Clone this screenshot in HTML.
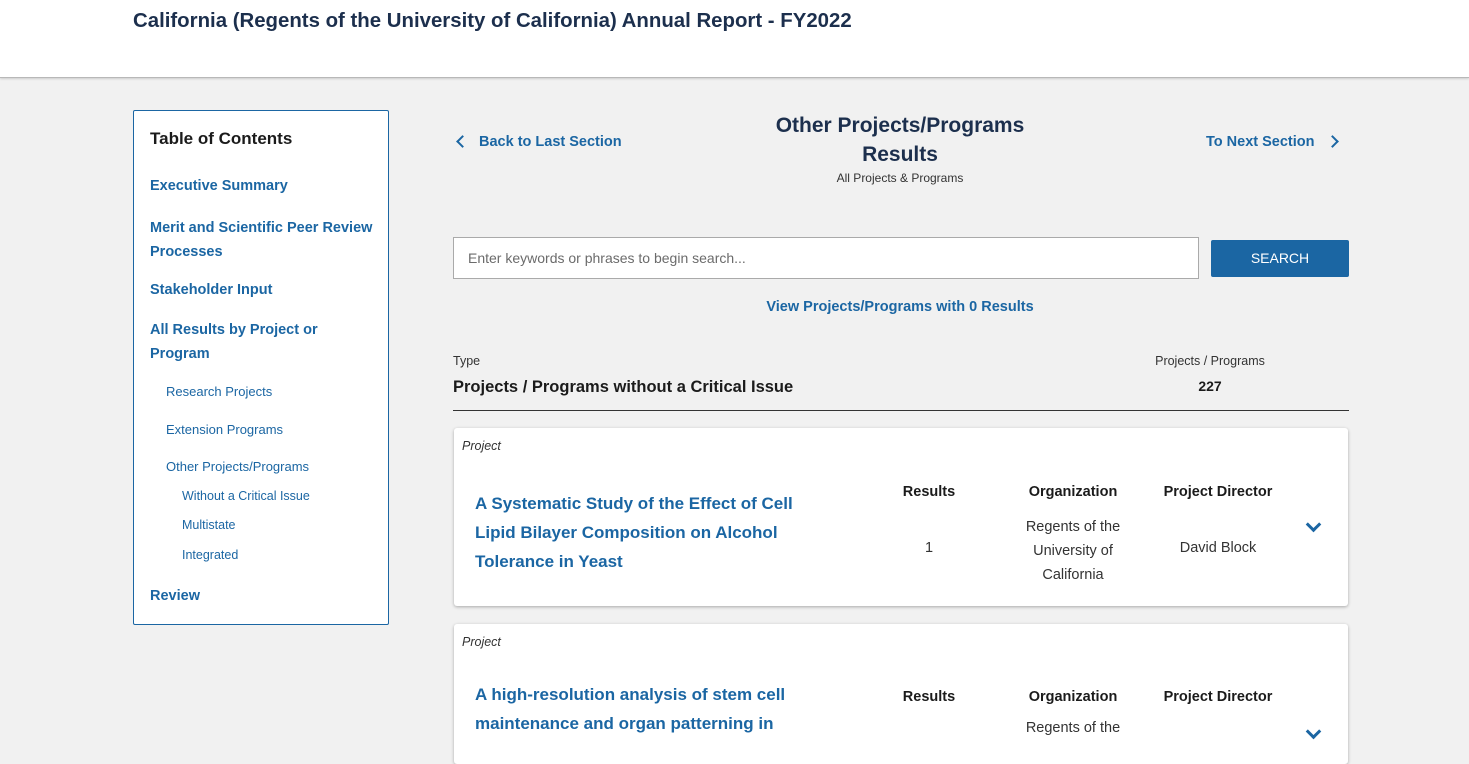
<!DOCTYPE html>
<html><head><meta charset="utf-8"><style>
*{box-sizing:border-box;margin:0;padding:0}
body{width:1469px;height:735px;overflow:hidden;background:#f1f1f1;font-family:"Liberation Sans",sans-serif;position:relative;color:#1b1b1b}
.a{position:absolute;white-space:nowrap}
.hdr{position:absolute;left:0;top:0;width:1469px;height:78px;background:#fff;border-bottom:1px solid #b8b8b8;box-shadow:0 1px 2px rgba(0,0,0,.15)}
.navy{color:#1c2f4d}
.blue{color:#1b66a3;font-weight:bold}
.toc{position:absolute;left:133px;top:110px;width:256px;height:515px;border:1px solid #1b66a3;background:#fff;border-radius:2px}
.card{position:absolute;left:454px;width:894px;background:#fff;border-radius:3px;box-shadow:0 1px 3px rgba(0,0,0,.3)}
.b{font-weight:bold}
.chev{position:absolute;width:11px;height:11px;border-left:3px solid #1b66a3;border-bottom:3px solid #1b66a3}
</style></head><body>
<div class="hdr"></div>
<div class="a navy b" style="left:133px;top:10px;font-size:20.4px">California (Regents of the University of California) Annual Report - FY2022</div>

<div class="toc"></div>
<div class="a b" style="left:150px;top:129px;font-size:17px;color:#1b1b1b">Table of Contents</div>
<div class="a blue" style="left:150px;top:178px;font-size:14.5px">Executive Summary</div>
<div class="a blue" style="left:150px;top:216px;font-size:14.5px;line-height:24px;white-space:normal;width:230px">Merit and Scientific Peer Review Processes</div>
<div class="a blue" style="left:150px;top:282px;font-size:14.5px">Stakeholder Input</div>
<div class="a blue" style="left:150px;top:318px;font-size:14.5px;line-height:24px;white-space:normal;width:200px">All Results by Project or Program</div>
<div class="a" style="left:166px;top:384px;font-size:13px;color:#1b66a3">Research Projects</div>
<div class="a" style="left:166px;top:422px;font-size:13px;color:#1b66a3">Extension Programs</div>
<div class="a" style="left:166px;top:459px;font-size:13px;color:#1b66a3">Other Projects/Programs</div>
<div class="a" style="left:182px;top:489px;font-size:12.5px;color:#1b66a3">Without a Critical Issue</div>
<div class="a" style="left:182px;top:518px;font-size:12.5px;color:#1b66a3">Multistate</div>
<div class="a" style="left:182px;top:548px;font-size:12.5px;color:#1b66a3">Integrated</div>
<div class="a blue" style="left:150px;top:588px;font-size:14.5px">Review</div>

<div class="chev" style="left:458px;top:137px;transform:rotate(45deg);width:9px;height:9px;border-width:2.5px"></div>
<div class="a blue" style="left:479px;top:134px;font-size:14.5px">Back to Last Section</div>
<div class="a navy b" style="left:700px;top:111px;width:400px;text-align:center;font-size:21px;line-height:29px;white-space:normal">Other Projects/Programs<br>Results</div>
<div class="a" style="left:700px;top:171px;width:400px;text-align:center;font-size:12px;color:#333">All Projects &amp; Programs</div>
<div class="a blue" style="left:1206px;top:134px;font-size:14.5px">To Next Section</div>
<div class="chev" style="left:1328px;top:137px;transform:rotate(-135deg);width:9px;height:9px;border-width:2.5px"></div>

<div class="a" style="left:453px;top:237px;width:746px;height:42px;background:#fff;border:1px solid #aaa"></div>
<div class="a" style="left:468px;top:250px;font-size:14px;color:#6b6b6b">Enter keywords or phrases to begin search...</div>
<div class="a" style="left:1211px;top:240px;width:138px;height:37px;background:#1b66a3;border-radius:2px;color:#fff;font-size:14px;text-align:center;line-height:37px">SEARCH</div>
<div class="a blue" style="left:600px;top:299px;width:600px;text-align:center;font-size:14.5px">View Projects/Programs with 0 Results</div>

<div class="a" style="left:453px;top:354px;font-size:12.5px;color:#333">Type</div>
<div class="a b" style="left:453px;top:378px;font-size:16.5px">Projects / Programs without a Critical Issue</div>
<div class="a" style="left:1150px;top:354px;width:120px;text-align:center;font-size:12.5px;color:#333">Projects / Programs</div>
<div class="a b" style="left:1150px;top:378px;width:120px;text-align:center;font-size:14px">227</div>
<div class="a" style="left:453px;top:410px;width:896px;height:1px;background:#333"></div>

<div class="card" style="top:428px;height:178px"></div>
<div class="a" style="left:462px;top:439px;font-size:12.5px;font-style:italic;color:#333">Project</div>
<div class="a blue" style="left:475px;top:489px;font-size:17px;line-height:29px;white-space:normal;width:360px">A Systematic Study of the Effect of Cell Lipid Bilayer Composition on Alcohol Tolerance in Yeast</div>
<div class="a b" style="left:879px;top:484px;width:100px;text-align:center;font-size:14.5px">Results</div>
<div class="a b" style="left:1013px;top:484px;width:120px;text-align:center;font-size:14.5px">Organization</div>
<div class="a b" style="left:1148px;top:484px;width:140px;text-align:center;font-size:14.5px">Project Director</div>
<div class="a" style="left:879px;top:540px;width:100px;text-align:center;font-size:14.5px;color:#333">1</div>
<div class="a" style="left:1013px;top:515px;width:120px;text-align:center;font-size:14.5px;line-height:24px;color:#333">Regents of the<br>University of<br>California</div>
<div class="a" style="left:1148px;top:540px;width:140px;text-align:center;font-size:14.5px;color:#333">David Block</div>
<div class="chev" style="left:1308px;top:519px;transform:rotate(-45deg)"></div>

<div class="card" style="top:624px;height:140px"></div>
<div class="a" style="left:462px;top:635px;font-size:12.5px;font-style:italic;color:#333">Project</div>
<div class="a blue" style="left:475px;top:680px;font-size:17px;line-height:29px;white-space:normal;width:360px">A high-resolution analysis of stem cell maintenance and organ patterning in</div>
<div class="a b" style="left:879px;top:689px;width:100px;text-align:center;font-size:14.5px">Results</div>
<div class="a b" style="left:1013px;top:689px;width:120px;text-align:center;font-size:14.5px">Organization</div>
<div class="a b" style="left:1148px;top:689px;width:140px;text-align:center;font-size:14.5px">Project Director</div>
<div class="a" style="left:1013px;top:720px;width:120px;text-align:center;font-size:14.5px;color:#333">Regents of the</div>
<div class="chev" style="left:1308px;top:726px;transform:rotate(-45deg)"></div>
</body></html>
